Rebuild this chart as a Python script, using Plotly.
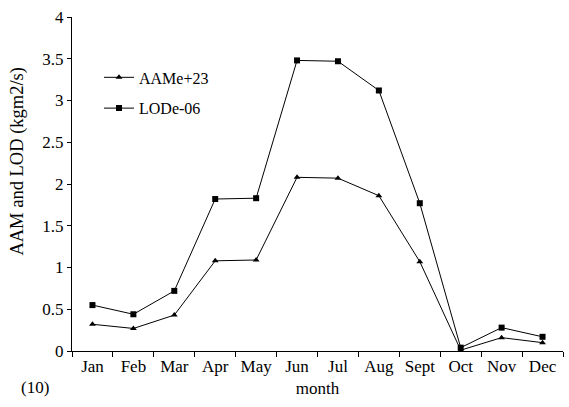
import plotly.graph_objects as go

months = ["Jan", "Feb", "Mar", "Apr", "May", "Jun", "Jul", "Aug", "Sept", "Oct", "Nov", "Dec"]
aam = [0.32, 0.27, 0.43, 1.08, 1.09, 2.08, 2.07, 1.86, 1.07, 0.01, 0.16, 0.10]
lod = [0.55, 0.44, 0.72, 1.82, 1.83, 3.48, 3.47, 3.12, 1.77, 0.04, 0.28, 0.17]
ytickvals = [0, 0.5, 1, 1.5, 2, 2.5, 3, 3.5, 4]
yticktext = ["0", "0.5", "1", "1.5", "2", "2.5", "3", "3.5", "4"]

font = "Liberation Serif"

fig = go.Figure()
fig.add_trace(go.Scatter(x=months, y=aam, name="AAMe+23", mode="lines+markers",
                         legendgroup="a",
                         line=dict(color="black", width=1),
                         marker=dict(symbol="triangle-up", size=6, color="black")))
fig.add_trace(go.Scatter(x=months, y=lod, name="LODe-06", mode="lines+markers",
                         legendgroup="b",
                         line=dict(color="black", width=1),
                         marker=dict(symbol="square", size=6, color="black")))

fig.update_layout(
    width=569, height=407,
    margin=dict(l=72, r=6, t=17, b=56, autoexpand=False),
    paper_bgcolor="white", plot_bgcolor="white",
    font=dict(family=font, size=16, color="black"),
    showlegend=True,
    legend=dict(x=0.055, y=0.87, xanchor="left", yanchor="top",
                font=dict(family=font, size=16, color="black"),
                bgcolor="rgba(0,0,0,0)", tracegroupgap=7, itemwidth=30,
                traceorder="grouped"),
    xaxis=dict(type="category", range=[-0.5, 11.5], showline=True, linecolor="black",
               linewidth=1, ticks="outside", tickson="boundaries", ticklen=5,
               tickcolor="black", showgrid=False, zeroline=False,
               tickfont=dict(family=font, size=17),
               title=dict(text="month", font=dict(family=font, size=17), standoff=6)),
    yaxis=dict(range=[0, 4], tickvals=ytickvals, ticktext=yticktext, showline=True,
               linecolor="black", linewidth=1, ticks="outside", ticklen=4,
               tickcolor="black", showgrid=False, zeroline=False,
               tickfont=dict(family=font, size=17)),
    annotations=[
        dict(text="(10)", xref="paper", yref="paper", x=-0.075, y=-0.11,
             xanchor="center", yanchor="middle", showarrow=False,
             font=dict(family=font, size=17)),
        dict(text="AAM and LOD (kgm2/s)", xref="paper", yref="paper", x=-0.11, y=0.57,
             xanchor="center", yanchor="middle", textangle=-90, showarrow=False,
             font=dict(family=font, size=18.5)),
    ],
)

fig.write_html("out.html", config={"displayModeBar": False},
               post_script="document.body.style.margin='0';document.body.style.padding='0';")
